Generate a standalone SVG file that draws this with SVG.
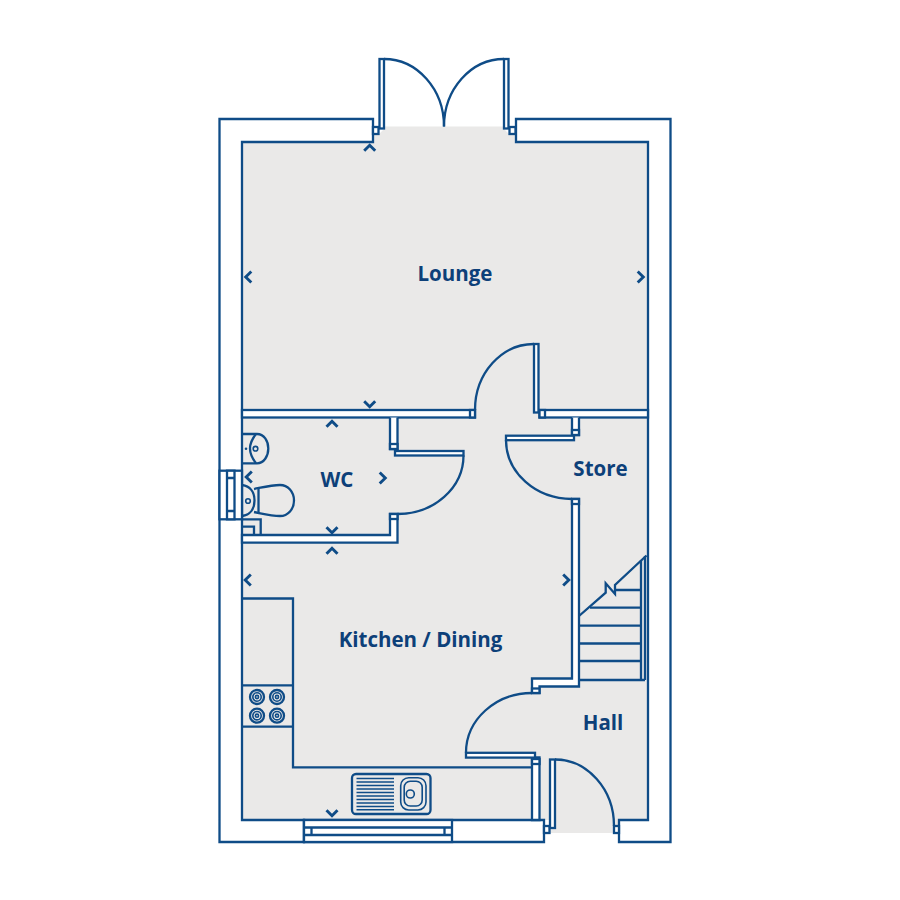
<svg xmlns="http://www.w3.org/2000/svg" width="900" height="900" viewBox="0 0 900 900">
<style>
.w{fill:#fff;stroke:#0f4c87;stroke-width:2.3;stroke-linejoin:miter}
.l{fill:none;stroke:#0f4c87;stroke-width:2.3}
.t{fill:none;stroke:#0f4c87;stroke-width:1.6}
.c{fill:none;stroke:#0f4c87;stroke-width:2.9}
.f{fill:#0f4c87}
text{font-family:"Open Sans","Noto Sans","Liberation Sans",sans-serif;font-weight:700;font-size:20.5px;fill:#0d4079;text-anchor:middle}
</style>
<defs>
<path id="up" class="c" d="M-5.500,2.800 L0,-2.800 L5.500,2.800"/>
<path id="dn" class="c" d="M-5.500,-2.800 L0,2.800 L5.500,-2.800"/>
<path id="lf" class="c" d="M2.800,-5.500 L-2.800,0 L2.800,5.500"/>
<path id="rt" class="c" d="M-2.800,-5.500 L2.800,0 L-2.800,5.500"/>
<g id="burner"><circle class="l" r="7"/><circle class="t" r="4.200"/><circle class="t" r="1.600"/></g>
</defs>
<path id="floor" fill="#eae9e8" d="M242,142H373V134H379L384,129V126.500H504V129L509,134H516V142H648V820H619V833H549V820H242Z"/>
<g id="walls">
<path class="w" d="M373,119H219.500V842H304V820H242V142H373Z"/>
<path class="w" d="M516,119H670.500V842H619V820H648V142H516Z"/>
<path class="w" d="M304,820H544V842H304Z"/>
<rect class="w" x="242" y="410" width="233" height="7.500"/>
<rect class="w" x="539.500" y="410" width="108.500" height="7.500"/>
<path class="w" d="M390,417.500V449H397.500V417.500"/>
<path class="w" d="M390,514V535H242V542.700H397.500V514Z"/>
<path class="w" d="M572,417.500V435H579V417.500"/>
<path class="w" d="M572,499V678.500H532V693H539.500V686.500H579V499Z"/>
<path class="w" d="M532,757.500V820H539.500V757.500Z"/>
</g>
<g id="jambs">
<rect class="w" x="373" y="127" width="5.500" height="7"/>
<rect class="w" x="509.500" y="127" width="6" height="7"/>
<rect class="w" x="470" y="410" width="5" height="7.500"/>
<rect class="w" x="539.500" y="410" width="5.500" height="7.500"/>
<rect class="w" x="390" y="444" width="7.500" height="5"/>
<rect class="w" x="390" y="514" width="7.500" height="5"/>
<rect class="w" x="572" y="430" width="7" height="5"/>
<rect class="w" x="572" y="499" width="7" height="5"/>
<rect class="w" x="532" y="688.500" width="7.500" height="4.500"/>
<rect class="w" x="532" y="759" width="7.500" height="5"/>
<rect class="w" x="544" y="826" width="5.500" height="7"/>
<rect class="w" x="614" y="826" width="5" height="7"/>
</g>
<g id="doors">
<rect class="w" x="379.500" y="59" width="4.500" height="69.500"/>
<path class="l" d="M384,59A60,67.500 0 0 1 444,126.500"/>
<rect class="w" x="504" y="59" width="4.500" height="69.500"/>
<path class="l" d="M504,59A60,67.500 0 0 0 444,126.500"/>
<rect class="w" x="534" y="344" width="4.500" height="68.500"/>
<path class="l" d="M534,344A59,66 0 0 0 475,410"/>
<rect class="w" x="395" y="451" width="68.500" height="4.500"/>
<path class="l" d="M463.500,455.500A66,58.500 0 0 1 397.500,514"/>
<rect class="w" x="506" y="435.700" width="68" height="4.500"/>
<path class="l" d="M506,440A66,59 0 0 0 572,499"/>
<rect class="w" x="466" y="752.800" width="69" height="4.800"/>
<path class="l" d="M466,752.800A66,59.800 0 0 1 532,693"/>
<rect class="w" x="550" y="759.500" width="5" height="68.500"/>
<path class="l" d="M555,759.500A59,66.500 0 0 1 614,826"/>
</g>
<g id="left-window">
<rect class="w" x="219.500" y="470.700" width="22.500" height="48.600"/>
<rect class="w" x="227" y="470.700" width="7.500" height="48.600"/>
<path class="l" d="M227,478H234.500M227,511H234.500"/>
</g>
<g id="bottom-window">
<rect class="w" x="304" y="820" width="148" height="22"/>
<path class="l" d="M304,827.500H452M304,835H452M311.500,827.500V835M444.500,827.500V835"/>
</g>
<g id="stairs">
<path class="l" d="M579,680H645M641,560V680M645,556V680"/>
<path class="l" d="M579,661H641M579,643.500H641M579,625.700H641M590,607.700H641M615,590H641"/>
<path class="l" d="M579,616L605.700,592.700V583.300L615,594V585L646.500,555.500"/>
</g>
<g id="kitchen">
<path class="l" d="M242,598.500H293V767.300H532"/>
<path class="l" d="M242,685.300H293M242,726.700H293"/>
<use href="#burner" x="257" y="697"/>
<use href="#burner" x="277" y="697"/>
<use href="#burner" x="257" y="715.700"/>
<use href="#burner" x="277" y="715.700"/>
<rect class="l" x="352" y="774" width="78.500" height="40" rx="4"/>
<path class="t" d="M356.500,778.500H394M356.500,782H394M356.500,785.500H394M356.500,789H394M356.500,792.500H394M356.500,796H394M356.500,799.500H394M356.500,803H394M356.500,806.500H394M356.500,809.800H394"/>
<rect class="t" x="400.700" y="777.700" width="25.300" height="32.300" rx="8"/>
<rect class="t" x="404.200" y="781.200" width="18" height="24.800" rx="6"/>
<circle class="t" cx="410.300" cy="794" r="4"/>
</g>
<g id="wc-fittings">
<path class="l" d="M242,434H257C264,434 268.300,441 268.300,448.500C268.300,456 264,463.300 257,463.300H242"/>
<path class="l" d="M256,434C252,439 250,444 250,448.500C250,453 252,458 256,463.300"/>
<circle class="t" cx="255.500" cy="448.700" r="2.300"/>
<circle class="f" cx="246" cy="448.700" r="1.300"/>
<path class="l" d="M242,485C250,486 254.500,492 254.500,500.500C254.500,509 250,515 242,516"/>
<circle class="t" cx="248" cy="501" r="2.300"/>
<path class="l" d="M254,489C264,487 272,485 280,485C288,485 294,492 294,500.500C294,509 288,516 280,516C272,516 264,514 254,512"/>
<path class="l" d="M258.500,488V512.500"/>
<path class="l" d="M242,519.300H260.700V535M242,526.700H254V535"/>
</g>
<g id="chevrons">
<use href="#up" x="369.700" y="148"/>
<use href="#dn" x="369.700" y="404"/>
<use href="#up" x="332" y="424"/>
<use href="#dn" x="332" y="530"/>
<use href="#up" x="332" y="551"/>
<use href="#dn" x="332" y="813"/>
<use href="#lf" x="248.500" y="277"/>
<use href="#rt" x="640.500" y="277"/>
<use href="#lf" x="249" y="477"/>
<use href="#rt" x="382.500" y="478"/>
<use href="#lf" x="248" y="580"/>
<use href="#rt" x="566" y="580"/>
</g>
<g id="labels">
<text x="455" y="281">Lounge</text>
<text x="337" y="487">WC</text>
<text x="600.500" y="476">Store</text>
<text x="420.500" y="647">Kitchen / Dining</text>
<text x="603" y="730">Hall</text>
</g>
</svg>
